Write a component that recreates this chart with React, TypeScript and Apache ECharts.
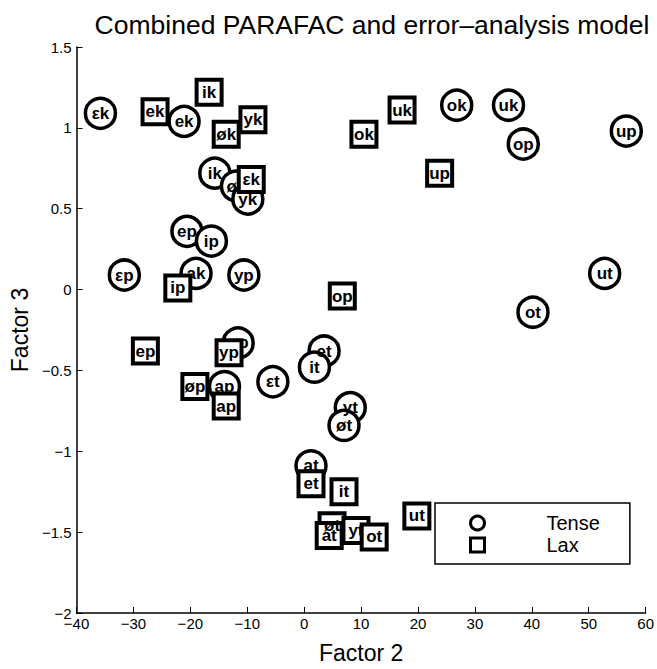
import React, { useEffect, useRef } from "react";
import * as echarts from "echarts";

const tenseLabels = ["εk", "ek", "ik", "øk", "yk", "ok", "uk", "ak", "εp", "ep", "ip", "yp", "op", "up", "øp", "ap", "εt", "et", "it", "yt", "øt", "at", "ut", "ot"];
const tenseX = [-35.8, -21.1, -15.7, -11.9, -9.9, 26.8, 35.9, -19.0, -31.6, -20.6, -16.3, -10.6, 38.5, 56.6, -11.6, -14.0, -5.5, 3.5, 1.8, 8.1, 7.0, 1.2, 52.8, 40.2];
const tenseY = [1.09, 1.04, 0.72, 0.64, 0.56, 1.14, 1.14, 0.1, 0.09, 0.36, 0.3, 0.09, 0.9, 0.98, -0.33, -0.6, -0.57, -0.38, -0.48, -0.73, -0.84, -1.09, 0.1, -0.14];

const laxLabels = ["ek", "ik", "øk", "yk", "εk", "ok", "uk", "ip", "ep", "yp", "øp", "ap", "op", "up", "et", "it", "øt", "at", "yt", "ot", "ut"];
const laxX = [-26.2, -16.7, -13.7, -9.0, -9.3, 10.5, 17.2, -22.2, -27.9, -13.2, -19.2, -13.7, 6.7, 23.8, 1.2, 7.0, 4.9, 4.4, 9.1, 12.3, 19.8];
const laxY = [1.1, 1.22, 0.96, 1.05, 0.68, 0.96, 1.11, 0.01, -0.38, -0.39, -0.6, -0.72, -0.04, 0.72, -1.2, -1.25, -1.46, -1.52, -1.49, -1.53, -1.4];

const seriesNames = ["Tense", "Lax"];
const titleText = "Combined PARAFAC and error–analysis model";
const xTitle = "Factor 2";
const yTitle = "Factor 3";

const FONT = "'Liberation Sans', Arial, Helvetica, sans-serif";

export default function App() {
  const ref = useRef<HTMLDivElement>(null);
  useEffect(() => {
    if (!ref.current) return;
    const chart = echarts.init(ref.current, undefined, { renderer: "svg" });
    const fmt = (v: number) => String(v).replace("-", "−");
    const tenseData = tenseX.map((x, i) => [x, tenseY[i], tenseLabels[i]]);
    const laxData = laxX.map((x, i) => [x, laxY[i], laxLabels[i]]);
    const labelCfg = {
      show: true,
      position: "inside",
      formatter: (p: any) => p.data[2],
      color: "#000",
      fontWeight: "bold",
      fontSize: 17,
      fontFamily: FONT,
    };
    chart.setOption({
      animation: false,
      backgroundColor: "#fff",
      title: {
        text: titleText,
        left: 367,
        textAlign: "center",
        top: 6,
        textStyle: { fontFamily: FONT, fontWeight: "normal", fontSize: 26.5, color: "#000" },
      },
      grid: { left: 76, right: 9, top: 47, bottom: 51, containLabel: false },
      xAxis: {
        type: "value",
        min: -40,
        max: 60,
        interval: 10,
        name: xTitle,
        nameLocation: "middle",
        nameGap: 28,
        nameTextStyle: { fontFamily: FONT, fontSize: 23, color: "#000" },
        axisLine: { show: true, onZero: false, lineStyle: { color: "#000", width: 1.5 } },
        axisTick: { show: true, inside: true, length: 6, lineStyle: { color: "#000" } },
        axisLabel: { formatter: fmt, fontFamily: FONT, fontSize: 15, color: "#000", margin: 3 },
        splitLine: { show: false },
      },
      yAxis: {
        type: "value",
        min: -2,
        max: 1.5,
        interval: 0.5,
        name: yTitle,
        nameLocation: "middle",
        nameGap: 44,
        nameRotate: 90,
        nameTextStyle: { fontFamily: FONT, fontSize: 23, color: "#000" },
        axisLine: { show: true, onZero: false, lineStyle: { color: "#000", width: 1.5 } },
        axisTick: { show: true, inside: true, length: 6, lineStyle: { color: "#000" } },
        axisLabel: { formatter: fmt, fontFamily: FONT, fontSize: 15, color: "#000", margin: 5 },
        splitLine: { show: false },
      },
      legend: {
        orient: "vertical",
        left: 435,
        top: 503,
        data: [
          { name: seriesNames[0], icon: "circle" },
          { name: seriesNames[1], icon: "rect" },
        ],
        itemWidth: 14,
        itemHeight: 14,
        itemGap: 2,
        padding: [10, 30, 9, 34],
        borderColor: "#000",
        borderWidth: 1.5,
        backgroundColor: "#fff",
        borderRadius: 0,
        itemStyle: { color: "#fff", borderColor: "#000", borderWidth: 3 },
        textStyle: { fontFamily: FONT, fontSize: 20, color: "#000", padding: [0, 0, 0, 57], lineHeight: 19 },
      },
      series: [
        {
          name: seriesNames[0],
          type: "scatter",
          symbol: "circle",
          symbolSize: 30,
          data: tenseData,
          itemStyle: { color: "#fff", borderColor: "#000", borderWidth: 3.5, opacity: 1 },
          label: labelCfg,
          z: 2,
        },
        {
          name: seriesNames[1],
          type: "scatter",
          symbol: "rect",
          symbolSize: 25,
          data: laxData,
          itemStyle: { color: "#fff", borderColor: "#000", borderWidth: 4, opacity: 1 },
          label: labelCfg,
          z: 3,
        },
      ],
    });
    return () => chart.dispose();
  }, []);
  return (
    <div
      ref={ref}
      style={{ position: "absolute", left: 0, top: 0, width: 657, height: 669, background: "#fff" }}
    />
  );
}
